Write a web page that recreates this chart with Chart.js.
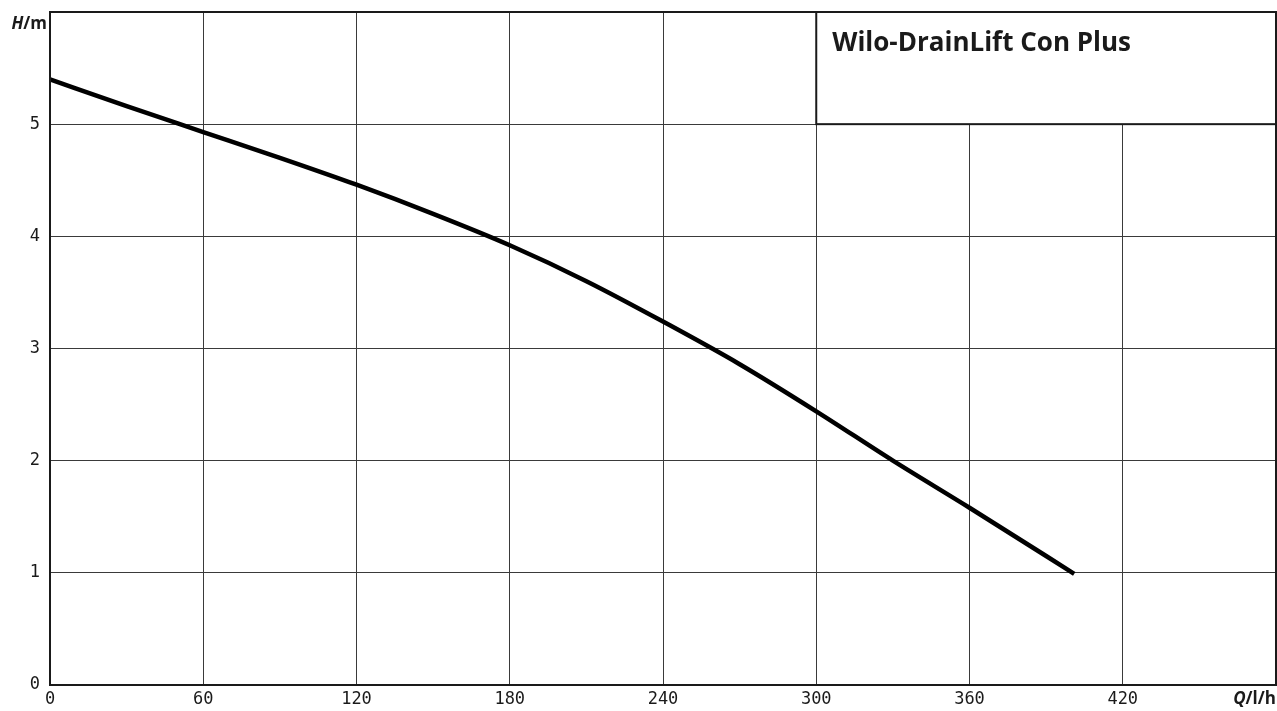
<!DOCTYPE html>
<html>
<head>
<meta charset="utf-8">
<script src="https://cdn.jsdelivr.net/npm/chart.js@4"></script>
<style>
  html, body { margin: 0; padding: 0; background: #fff; }
  #wrap { width: 1277px; height: 711px; }
</style>
</head>
<body>
<div id="wrap"><canvas id="pumpChart" width="1277" height="711"></canvas></div>
<script>
// Flow Q (l/h) and head H (m)
const flowQ = [0, 30, 60, 90, 120, 150, 180, 210, 240, 270, 300, 330, 360, 390, 401];
const headH = [5.40, 5.16, 4.93, 4.70, 4.46, 4.20, 3.92, 3.60, 3.24, 2.86, 2.44, 2.00, 1.58, 1.15, 0.99];
const xTicks = [0, 60, 120, 180, 240, 300, 360, 420, 480];
const yTicks = [0, 1, 2, 3, 4, 5, 6];
const title = 'Wilo-DrainLift Con Plus';

const tickFont = { family: 'DejaVu Sans Mono', size: 17 };

// frame, title box and axis unit labels
const decorations = {
  id: 'decorations',
  afterDraw(chart) {
    const { ctx, chartArea: a, scales: { x, y } } = chart;
    ctx.save();

    // title box in the top right corner
    const bx = x.getPixelForValue(300), by = y.getPixelForValue(5);
    ctx.fillStyle = '#fff';
    ctx.fillRect(bx, a.top, a.right - bx, by - a.top);
    ctx.strokeStyle = '#1a1a1a';
    ctx.lineWidth = 2;
    ctx.strokeRect(bx, a.top, a.right - bx, by - a.top);
    ctx.fillStyle = '#1a1a1a';
    ctx.font = 'bold 26px "Open Sans"';
    ctx.textBaseline = 'alphabetic';
    ctx.textAlign = 'left';
    ctx.fillText(title, bx + 16, a.top + 39);

    // outer frame
    ctx.lineWidth = 2;
    ctx.strokeRect(a.left, a.top, a.right - a.left, a.bottom - a.top);

    // unit labels
    ctx.textBaseline = 'middle';
    ctx.textAlign = 'right';
    ctx.font = 'bold 17px "Open Sans"';
    const mW = ctx.measureText('/m').width;
    ctx.fillText('/m', a.left - 3, a.top + 12);
    ctx.font = 'italic bold 17px "Open Sans"';
    ctx.fillText('H', a.left - 3 - mW, a.top + 12);

    ctx.font = 'bold 17px "Open Sans"';
    const lhW = ctx.measureText('/l/h').width;
    ctx.fillText('/l/h', a.right, a.bottom + 14);
    ctx.font = 'italic bold 17px "Open Sans"';
    ctx.fillText('Q', a.right - lhW, a.bottom + 14);
    ctx.restore();
  }
};

new Chart(document.getElementById('pumpChart'), {
  type: 'line',
  data: {
    datasets: [{
      data: flowQ.map((q, i) => ({ x: q, y: headH[i] })),
      borderColor: '#000',
      borderWidth: 4.5,
      pointRadius: 0,
      cubicInterpolationMode: 'monotone',
      fill: false
    }]
  },
  options: {
    responsive: false,
    animation: false,
    layout: { padding: { top: 12, right: 1, left: 0, bottom: 0 } },
    plugins: { legend: { display: false }, tooltip: { enabled: false } },
    scales: {
      x: {
        type: 'linear',
        min: 0,
        max: 480,
        afterBuildTicks: axis => { axis.ticks = xTicks.map(v => ({ value: v })); },
        afterFit: axis => {
          axis.height = 26;
          axis.paddingLeft = 0;
          axis.paddingRight = 0;
        },
        ticks: {
          color: '#1a1a1a',
          font: tickFont,
          padding: 4,
          maxRotation: 0,
          callback: v => (v === 480 ? '' : String(v))
        },
        grid: { color: '#3a3a3a', lineWidth: 1, drawTicks: false },
        border: { display: false }
      },
      y: {
        min: 0,
        max: 6,
        afterBuildTicks: axis => { axis.ticks = yTicks.map(v => ({ value: v })); },
        afterFit: axis => {
          axis.width = 50;
          axis.paddingTop = 0;
          axis.paddingBottom = 0;
        },
        ticks: {
          color: '#1a1a1a',
          font: tickFont,
          padding: 10,
          callback: v => (v === 6 ? '' : String(v))
        },
        grid: { color: '#3a3a3a', lineWidth: 1, drawTicks: false },
        border: { display: false }
      }
    }
  },
  plugins: [decorations]
});
</script>
</body>
</html>
